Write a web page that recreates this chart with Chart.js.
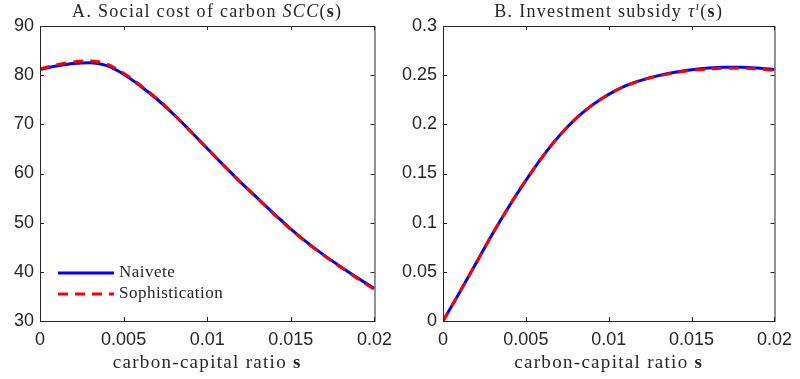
<!DOCTYPE html>
<html>
<head>
<meta charset="utf-8">
<script src="https://cdn.jsdelivr.net/npm/chart.js@4.4.1/dist/chart.umd.min.js"></script>
<style>
  body { margin: 0; background: #fff; }
  #wrap { position: relative; width: 800px; height: 379px; }
  canvas { position: absolute; top: 0; }
  #sccChart { left: 0; }
  #subChart { left: 400px; }
</style>
</head>
<body>
<div id="wrap">
  <canvas id="sccChart" width="400" height="379"></canvas>
  <canvas id="subChart" width="400" height="379"></canvas>
</div>
<script>
// carbon-capital ratio grid
var sGrid = [0, 0.001, 0.002, 0.003, 0.004, 0.005, 0.006, 0.007, 0.008, 0.009, 0.010,
             0.011, 0.012, 0.013, 0.014, 0.015, 0.016, 0.017, 0.018, 0.019, 0.020];

// social cost of carbon
var sccNaivete = [81.2, 81.85, 82.35, 82.55, 81.95, 80.2, 77.8, 75.1, 72.0, 68.6, 65.1,
                  61.6, 58.2, 55.0, 51.8, 48.7, 45.9, 43.35, 41.0, 38.75, 36.6];
var sccSophistication = [81.3, 82.1, 82.7, 82.9, 82.25, 80.4, 77.95, 75.2, 72.05, 68.6, 65.1,
                         61.6, 58.2, 55.0, 51.7, 48.6, 45.8, 43.25, 40.9, 38.6, 36.4];

// investment subsidy
var subNaivete = [0, 0.029, 0.059, 0.089, 0.117, 0.143, 0.167, 0.188, 0.2055, 0.2195, 0.2305,
                  0.2390, 0.2450, 0.2495, 0.2530, 0.2555, 0.2572, 0.2580, 0.2580, 0.2572, 0.2557];
var subSophistication = [0, 0.029, 0.059, 0.089, 0.117, 0.143, 0.167, 0.188, 0.2055, 0.2195, 0.2305,
                         0.2390, 0.2450, 0.2492, 0.2525, 0.2548, 0.2563, 0.2570, 0.2570, 0.2563, 0.2548];

var seriesNames = ['Naivete', 'Sophistication'];

var sTicks = [0, 0.005, 0.01, 0.015, 0.02];
var sTickLabels = ['0', '0.005', '0.01', '0.015', '0.02'];
var sccTicks = [30, 40, 50, 60, 70, 80, 90];
var sccTickLabels = ['30', '40', '50', '60', '70', '80', '90'];
var subTicks = [0, 0.05, 0.1, 0.15, 0.2, 0.25, 0.3];
var subTickLabels = ['0', '0.05', '0.1', '0.15', '0.2', '0.25', '0.3'];

var axisColor = '#262626';
var serif = '"Liberation Serif", "DejaVu Serif", serif';
var sans = '"Liberation Sans", Arial, sans-serif';

function toPoints(ys) {
    return sGrid.map(function (x, i) { return { x: x, y: ys[i] }; });
}

// draws a row of text pieces with different styles, centred on cx
function drawRich(ctx, parts, cx, baseline, spacing) {
    ctx.letterSpacing = spacing + 'px';
    var total = 0;
    parts.forEach(function (p) {
        ctx.font = p.font;
        p.w = ctx.measureText(p.t).width;
        total += p.w;
    });
    var x = cx - total / 2;
    ctx.fillStyle = axisColor;
    ctx.textBaseline = 'alphabetic';
    ctx.textAlign = 'left';
    parts.forEach(function (p) {
        ctx.font = p.font;
        ctx.fillText(p.t, x, baseline - (p.rise || 0));
        x += p.w;
    });
    ctx.letterSpacing = '0px';
}

// MATLAB style box with inward ticks, title and x label
var boxPlugin = {
    id: 'box',
    afterDraw: function (chart, args, opts) {
        var ctx = chart.ctx;
        var a = chart.chartArea;
        var xs = chart.scales.x, ys = chart.scales.y;
        ctx.save();
        ctx.strokeStyle = axisColor;
        ctx.lineWidth = 1;
        ctx.strokeRect(a.left + 0.5, a.top + 0.5, a.right - a.left, a.bottom - a.top);
        ctx.beginPath();
        var len = 4;
        xs.ticks.forEach(function (t) {
            var px = Math.round(xs.getPixelForValue(t.value)) + 0.5;
            ctx.moveTo(px, a.bottom); ctx.lineTo(px, a.bottom - len);
            ctx.moveTo(px, a.top); ctx.lineTo(px, a.top + len);
        });
        ys.ticks.forEach(function (t) {
            var py = Math.round(ys.getPixelForValue(t.value)) + 0.5;
            ctx.moveTo(a.left, py); ctx.lineTo(a.left + len, py);
            ctx.moveTo(a.right, py); ctx.lineTo(a.right - len, py);
        });
        ctx.stroke();

        var cx = (a.left + a.right) / 2;
        drawRich(ctx, opts.title, cx, 17, 1.3);
        drawRich(ctx, [
            { t: 'carbon-capital ratio ', font: '19px ' + serif },
            { t: 's', font: 'bold 19px ' + serif }
        ], cx, 368, 1.3);

        if (opts.legend) {
            var lx = a.left + 18, ly = 273;
            chart.data.datasets.forEach(function (ds, i) {
                var y = ly + i * 21;
                ctx.beginPath();
                ctx.strokeStyle = ds.borderColor;
                ctx.lineWidth = ds.borderWidth;
                ctx.setLineDash(ds.borderDash || []);
                ctx.moveTo(lx, y);
                ctx.lineTo(lx + 56, y);
                ctx.stroke();
                ctx.setLineDash([]);
                ctx.font = '17px ' + serif;
                ctx.letterSpacing = '0.5px';
                ctx.fillStyle = axisColor;
                ctx.textBaseline = 'middle';
                ctx.textAlign = 'left';
                ctx.fillText(ds.label, lx + 61, y);
                ctx.letterSpacing = '0px';
            });
        }
        ctx.restore();
    }
};

function makeChart(id, naive, soph, yTicks, yLabels, yAxisWidth, padRight, title, legend) {
    var ctx = document.getElementById(id).getContext('2d');
    return new Chart(ctx, {
        type: 'line',
        data: {
            datasets: [{
                label: seriesNames[0],
                data: toPoints(naive),
                borderColor: '#0000ff',
                borderWidth: 3,
                pointRadius: 0,
                cubicInterpolationMode: 'monotone',
                order: 2,
                fill: false
            }, {
                label: seriesNames[1],
                data: toPoints(soph),
                borderColor: '#ff0000',
                borderWidth: 3,
                borderDash: [10, 7],
                pointRadius: 0,
                cubicInterpolationMode: 'monotone',
                order: 1,
                fill: false
            }]
        },
        options: {
            responsive: false,
            animation: false,
            devicePixelRatio: 1,
            layout: { padding: { top: 26, right: padRight, left: 0, bottom: 0 } },
            plugins: {
                legend: { display: false },
                tooltip: { enabled: false },
                box: { title: title, legend: legend }
            },
            scales: {
                x: {
                    type: 'linear',
                    min: sTicks[0],
                    max: sTicks[sTicks.length - 1],
                    grid: { display: false, drawTicks: false },
                    border: { display: false },
                    afterBuildTicks: function (s) { s.ticks = sTicks.map(function (v) { return { value: v }; }); },
                    afterFit: function (s) { s.height = 58; },
                    ticks: {
                        color: axisColor,
                        font: { family: sans, size: 18 },
                        padding: 8,
                        maxRotation: 0,
                        callback: function (v, i) { return sTickLabels[i]; }
                    }
                },
                y: {
                    min: yTicks[0],
                    max: yTicks[yTicks.length - 1],
                    grid: { display: false, drawTicks: false },
                    border: { display: false },
                    afterBuildTicks: function (s) { s.ticks = yTicks.map(function (v) { return { value: v }; }); },
                    afterFit: function (s) { s.width = yAxisWidth; },
                    ticks: {
                        color: axisColor,
                        font: { family: sans, size: 18 },
                        padding: 6,
                        callback: function (v, i) { return yLabels[i]; }
                    }
                }
            }
        },
        plugins: [boxPlugin]
    });
}

makeChart('sccChart', sccNaivete, sccSophistication, sccTicks, sccTickLabels, 40, 24, [
    { t: 'A. Social cost of carbon ', font: '18px ' + serif },
    { t: 'SCC', font: 'italic 18px ' + serif },
    { t: '(', font: '18px ' + serif },
    { t: 's', font: 'bold 18px ' + serif },
    { t: ')', font: '18px ' + serif }
], true);

makeChart('subChart', subNaivete, subSophistication, subTicks, subTickLabels, 43, 21, [
    { t: 'B. Investment subsidy ', font: '18px ' + serif },
    { t: 'τ', font: 'italic 18px ' + serif },
    { t: 'ı', font: 'italic 12px ' + serif, rise: 7 },
    { t: '(', font: '18px ' + serif },
    { t: 's', font: 'bold 18px ' + serif },
    { t: ')', font: '18px ' + serif }
], false);
</script>
</body>
</html>
